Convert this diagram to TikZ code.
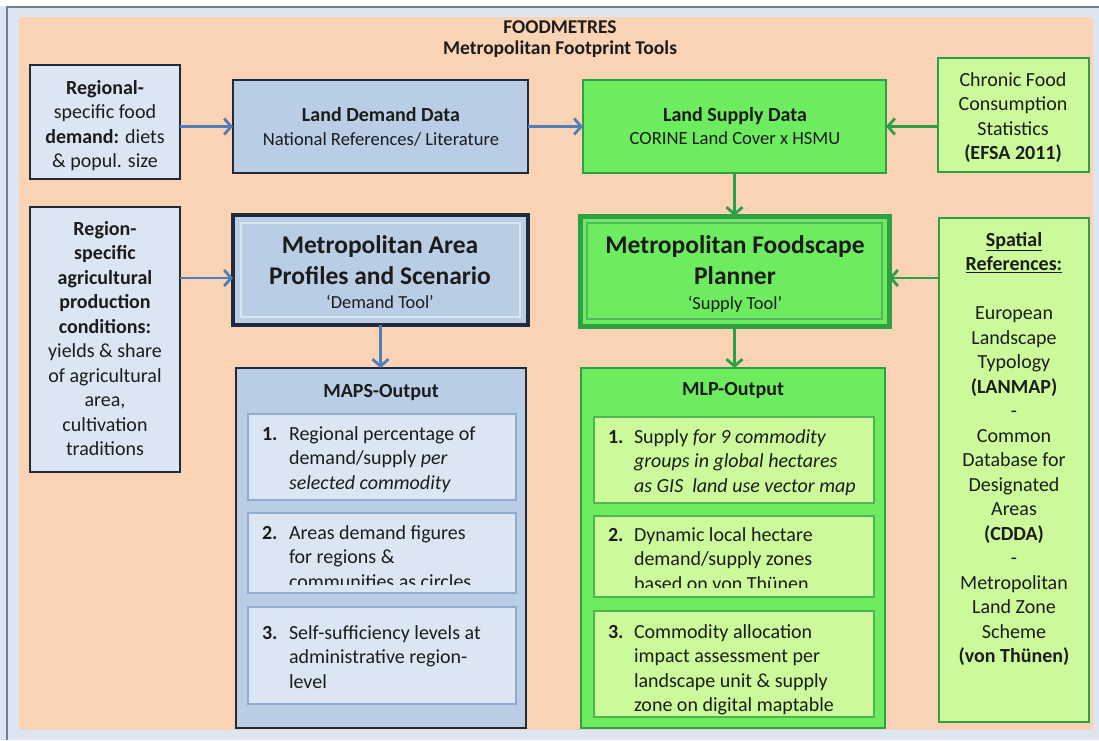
\documentclass[tikz,border=0pt]{standalone}
\usepackage{fontspec}
\setmainfont{Carlito}
\usetikzlibrary{arrows.meta,calc}
\definecolor{peach}{HTML}{FAD3B4}
\definecolor{lblue}{HTML}{DCE6F2}
\definecolor{mblue}{HTML}{B9CDE5}
\definecolor{navy}{HTML}{1F2B3B}
\definecolor{subbl}{HTML}{8FACCF}
\definecolor{arrbl}{HTML}{4F7EBA}
\definecolor{bgreen}{HTML}{6CEC5E}
\definecolor{lgreen}{HTML}{CCFA9A}
\definecolor{dgreen}{HTML}{2E9F45}
\definecolor{subgr}{HTML}{4DB552}
\definecolor{framec}{HTML}{DDE6F0}
\definecolor{frameline}{HTML}{6F7F92}
\definecolor{tcol}{HTML}{1C1C1C}
\newcommand{\bodyf}{\fontsize{20}{24.5}\selectfont}
\newcommand{\mkbox}[6]{\node[#1, minimum width={(#4)-(#2)}, minimum height={(#5)-(#3)}] (#6) at ({((#2)+(#4))/2},{((#3)+(#5))/2}) {};}
\begin{document}
\begin{tikzpicture}[x=1pt,y=-1pt,
  bx/.style={rectangle, inner sep=0pt, outer sep=0pt},
  bluebox/.style={bx, fill=lblue, draw=navy, line width=2.6pt},
  midbox/.style={bx, fill=mblue, draw=navy, line width=2.8pt},
  greenbox/.style={bx, fill=bgreen, draw=dgreen, line width=2.8pt},
  lgreenbox/.style={bx, fill=lgreen, draw=dgreen, line width=2.8pt},
  subblue/.style={bx, fill=lblue, draw=subbl, line width=2pt},
  subgreen/.style={bx, fill=lgreen, draw=subgr, line width=2pt},
  txt/.style={inner sep=0pt, outer sep=0pt, text=tcol, anchor=base},
  arrb/.style={draw=arrbl, line width=2.8pt, -{Straight Barb[length=7pt,width=16pt]}},
  arrg/.style={draw=dgreen, line width=2.8pt, -{Straight Barb[length=7pt,width=16pt]}}]
\useasboundingbox (0,0) rectangle (1099,740);
% background frame
\fill[framec] (0,0) rectangle (1099,740);
\fill[white] (0,0) rectangle (1099,6);
\draw[frameline, line width=1.2pt] (7,740) -- (7,7) -- (1099,7);
\fill[peach] (19,17) rectangle (1093,730);
% title
\node[txt, font=\fontsize{19.5}{21}\selectfont\bfseries] (title) at (560,33)
  {\begin{tabular}[t]{@{}c@{}}FOODMETRES\\Metropolitan Footprint Tools\end{tabular}};
% boxes
\mkbox{bluebox}{30}{65}{180}{179}{A}
\mkbox{midbox}{233}{80}{528}{173}{B}
\mkbox{greenbox}{583}{80}{886}{173}{C}
\mkbox{lgreenbox}{938}{58}{1089}{172}{D}
\mkbox{bluebox}{30}{207}{180}{472}{F}
\mkbox{midbox, line width=4.5pt}{233}{215}{528}{325}{G}
\mkbox{bx, draw=lblue, line width=1.6pt}{241}{223}{520}{317}{Gi}
\mkbox{greenbox, line width=5pt}{580}{216}{889}{326}{E}
\mkbox{bx, draw=dgreen!80, line width=1.8pt}{587}{223}{882}{319}{Ei}
\mkbox{lgreenbox}{939}{218}{1089}{722}{H}
\mkbox{midbox}{236}{368}{526}{728}{MAPS}
\mkbox{subblue}{248}{414}{516}{500}{M1}
\mkbox{subblue}{248}{513}{516}{593}{M2}
\mkbox{subblue}{248}{607}{516}{704}{M3}
\mkbox{greenbox}{581}{368}{885}{728}{MLP}
\mkbox{subgreen}{594}{417}{874}{503}{L1}
\mkbox{subgreen}{594}{516}{874}{597}{L2}
\mkbox{subgreen}{594}{611}{874}{717}{L3}
% texts
\node[txt, font=\bodyf] (Atx) at (105,94)
  {\begin{tabular}[t]{@{}c@{}}\textbf{Regional-}\\specific food\\\textbf{demand:} diets\\\& popul. size\end{tabular}};
\node[txt, font=\fontsize{20}{23.5}\selectfont] (Btx) at (381,121.5)
  {\begin{tabular}[t]{@{}c@{}}\textbf{Land Demand Data}\\{\fontsize{18.6}{22}\selectfont National References/ Literature}\end{tabular}};
\node[txt, font=\fontsize{20}{23.5}\selectfont] (Ctx) at (735,121)
  {\begin{tabular}[t]{@{}c@{}}\textbf{Land Supply Data}\\{\fontsize{18.6}{22}\selectfont CORINE Land Cover x HSMU}\end{tabular}};
\node[txt, font=\bodyf] (Dtx) at (1013,86)
  {\begin{tabular}[t]{@{}c@{}}Chronic Food\\Consumption\\Statistics\\\textbf{(EFSA 2011)}\end{tabular}};
\node[txt, font=\bodyf] (Ftx) at (105,235)
  {\begin{tabular}[t]{@{}c@{}}\textbf{Region-}\\\textbf{specific}\\\textbf{agricultural}\\\textbf{production}\\\textbf{conditions:}\\yields \& share\\of agricultural\\area,\\cultivation\\traditions\end{tabular}};
\node[txt, font=\fontsize{25.5}{31}\selectfont\bfseries] (Gtx) at (380,253)
  {\begin{tabular}[t]{@{}c@{}}Metropolitan Area\\Profiles and Scenario\end{tabular}};
\node[txt, font=\fontsize{18.4}{20}\selectfont] (Gtx2) at (380,308.5) {`Demand Tool'};
\node[txt, font=\fontsize{25.5}{31}\selectfont\bfseries] (Etx) at (735,253.5)
  {\begin{tabular}[t]{@{}c@{}}Metropolitan Foodscape\\Planner\end{tabular}};
\node[txt, font=\fontsize{18.4}{20}\selectfont] (Etx2) at (735,309.5) {`Supply Tool'};
\node[txt, font=\bodyf] (Htx) at (1014,246)
  {\begin{tabular}[t]{@{}c@{}}\textbf{\underline{Spatial}}\\\textbf{\underline{References:}}\\ \\European\\Landscape\\Typology\\\textbf{(LANMAP)}\\-\\Common\\Database for\\Designated\\Areas\\\textbf{(CDDA)}\\-\\Metropolitan\\Land Zone\\Scheme\\\textbf{(von Thünen)}\end{tabular}};
\node[txt, font=\fontsize{20}{24}\selectfont\bfseries] (MAPStx) at (381,397) {MAPS-Output};
\node[txt, font=\fontsize{20}{24}\selectfont\bfseries] (MLPtx) at (733,395) {MLP-Output};
% MAPS items
\node[txt, anchor=base west, font=\bodyf] (M1tx) at (262,440)
  {\begin{tabular}[t]{@{}p{27pt}@{}l@{}}\textbf{1.} & Regional percentage of\\ & demand/supply \textit{per}\\ & \textit{selected commodity}\end{tabular}};
\begin{scope}
\clip (M2.north west) rectangle ($(M2.south east)+(0,-9)$);
\node[txt, anchor=base west, font=\bodyf] (M2tx) at (262,539)
  {\begin{tabular}[t]{@{}p{27pt}@{}l@{}}\textbf{2.} & Areas demand figures\\ & for regions \&\\ & communities as circles\end{tabular}};
\end{scope}
\node[txt, anchor=base west, font=\bodyf] (M3tx) at (262,639)
  {\begin{tabular}[t]{@{}p{27pt}@{}l@{}}\textbf{3.} & Self-sufficiency levels at\\ & administrative region-\\ & level\end{tabular}};
% MLP items
\node[txt, anchor=base west, font=\bodyf] (L1tx) at (608,443)
  {\begin{tabular}[t]{@{}p{26pt}@{}l@{}}\textbf{1.} & Supply \textit{for 9 commodity}\\ & \textit{groups in global hectares}\\ & \textit{as GIS\ \ land use vector map}\end{tabular}};
\begin{scope}
\clip (L2.north west) rectangle ($(L2.south east)+(0,-10)$);
\node[txt, anchor=base west, font=\bodyf] (L2tx) at (608,541)
  {\begin{tabular}[t]{@{}p{26pt}@{}l@{}}\textbf{2.} & Dynamic local hectare\\ & demand/supply zones\\ & based on von Thünen\end{tabular}};
\end{scope}
\node[txt, anchor=base west, font=\bodyf] (L3tx) at (608,638)
  {\begin{tabular}[t]{@{}p{26pt}@{}l@{}}\textbf{3.} & Commodity allocation\\ & impact assessment per\\ & landscape unit \& supply\\ & zone on digital maptable\end{tabular}};
% connectors
\coordinate (gin) at ($(G.west)+(0,8)$);
\coordinate (ein) at ($(E.east)+(0,7)$);
\draw[arrb] (A.east |- B.west) -- (B.west);
\draw[arrb] (B.east) -- (C.west);
\draw[arrg] (D.west |- C.east) -- (C.east);
\draw[arrg] (C.south) -- (C.south |- E.north);
\draw[arrb] (F.east |- gin) -- (gin);
\draw[arrg] (H.west |- ein) -- (ein);
\draw[arrb] (G.south) -- (G.south |- MAPS.north);
\draw[arrg] (E.south) -- (E.south |- MLP.north);
\end{tikzpicture}
\end{document}
